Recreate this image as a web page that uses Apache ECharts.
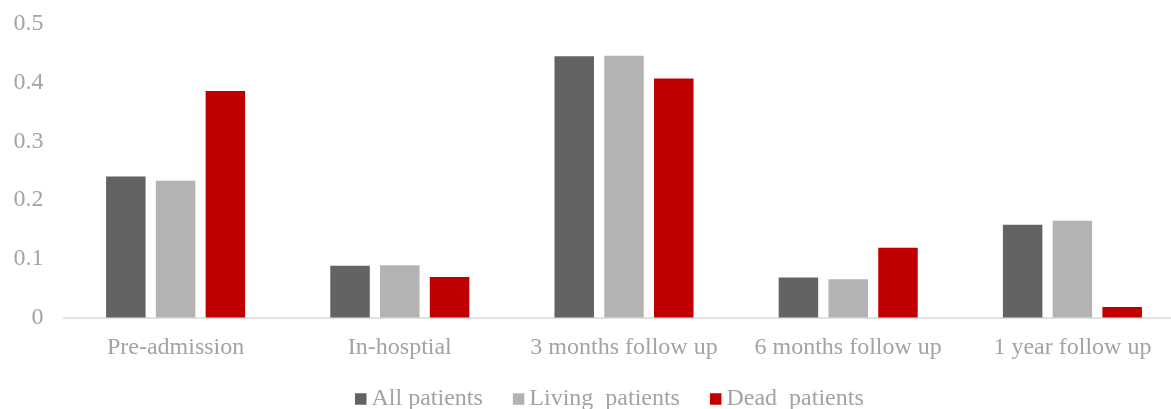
<!DOCTYPE html>
<html>
<head>
<meta charset="utf-8">
<script src="https://cdn.jsdelivr.net/npm/echarts@6/dist/echarts.min.js"></script>
<style>
  html, body { margin: 0; padding: 0; background: #fff; overflow: hidden; }
  #wrap { width: 1171px; height: 409px; overflow: hidden; }
  /* the plot runs slightly past the right edge, so the canvas is wider than the frame */
  #chart { width: 1190px; height: 409px; }
</style>
</head>
<body>
<div id="wrap"><div id="chart"></div></div>
<script>
// Stage of care for each group of bars
const categories = ['Pre-admission', 'In-hosptial', '3 months follow up', '6 months follow up', '1 year follow up'];

// Values per patient group
const allPatients    = [0.240, 0.088, 0.445, 0.068, 0.158];
const livingPatients = [0.233, 0.089, 0.446, 0.065, 0.165];
const deadPatients   = [0.386, 0.069, 0.407, 0.119, 0.018];

const seriesNames = ['All patients', 'Living  patients', 'Dead  patients'];
const seriesColors = ['#636363', '#b3b3b3', '#c00000'];

const textColor = '#a3a3a3';
const fontFamily = '"Liberation Serif", "Times New Roman", serif';

const chart = echarts.init(document.getElementById('chart'), null, { renderer: 'canvas' });

const dataSets = [allPatients, livingPatients, deadPatients];

chart.setOption({
  animation: false,
  backgroundColor: '#ffffff',
  textStyle: { fontFamily: fontFamily },
  grid: { left: 63.5, top: 24, width: 1121, height: 293.5, containLabel: false },
  legend: {
    left: 350,
    top: 382,
    itemWidth: 11.5,
    itemHeight: 11.5,
    itemGap: 30,
    icon: 'rect',
    textStyle: { color: textColor, fontSize: 24, fontFamily: fontFamily },
    data: seriesNames
  },
  xAxis: {
    type: 'category',
    data: categories,
    axisLine: { show: true, lineStyle: { color: '#d9d9d9', width: 1.5 } },
    axisTick: { show: false },
    axisLabel: { color: textColor, fontSize: 24, fontFamily: fontFamily, margin: 18, interval: 0 }
  },
  yAxis: {
    type: 'value',
    min: 0,
    max: 0.5,
    interval: 0.1,
    axisLine: { show: false },
    axisTick: { show: false },
    splitLine: { show: false },
    axisLabel: { color: textColor, fontSize: 24, fontFamily: fontFamily, margin: 20 }
  },
  series: dataSets.map((d, i) => ({
    name: seriesNames[i],
    type: 'bar',
    data: d,
    barWidth: 39.5,
    barGap: '26%',
    itemStyle: { color: seriesColors[i] }
  }))
});
</script>
</body>
</html>
